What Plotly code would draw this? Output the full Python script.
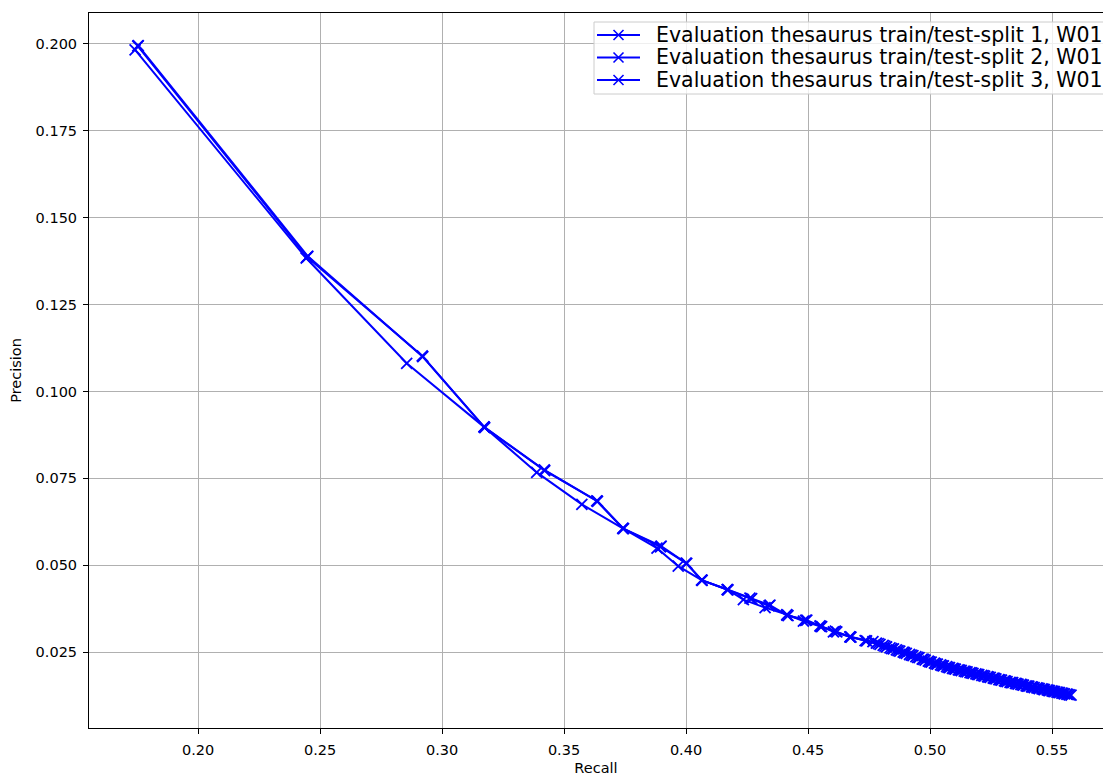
import plotly.graph_objects as go

# --- data -------------------------------------------------------------------
recall_1 = [0.1753, 0.2447, 0.2919, 0.3172, 0.3419, 0.3634, 0.3741, 0.3898, 0.4003,
            0.4064, 0.4169, 0.4269, 0.4344, 0.4413, 0.4495, 0.4549, 0.4618, 0.4672,
            0.4734, 0.4795, 0.4822, 0.4850, 0.4876, 0.4903, 0.4930, 0.4955, 0.4980,
            0.5005, 0.5030, 0.5055, 0.5080, 0.5104, 0.5128, 0.5152, 0.5176, 0.5200,
            0.5224, 0.5247, 0.5270, 0.5293, 0.5316, 0.5339, 0.5361, 0.5383, 0.5405,
            0.5427, 0.5448, 0.5469, 0.5490, 0.5511, 0.5531, 0.5551, 0.5571]
precision_1 = [0.1994, 0.1387, 0.1102, 0.0898, 0.0774, 0.0685, 0.0606, 0.0555, 0.0505,
               0.0457, 0.0430, 0.0404, 0.0385, 0.0356, 0.0342, 0.0325, 0.0308, 0.0294,
               0.0283, 0.0272, 0.0265, 0.0259, 0.0253, 0.0246, 0.0240, 0.0234, 0.0227,
               0.0221, 0.0215, 0.0210, 0.0205, 0.0201, 0.0197, 0.0193, 0.0189, 0.0185,
               0.0181, 0.0177, 0.0173, 0.0169, 0.0165, 0.0162, 0.0158, 0.0155, 0.0152,
               0.0148, 0.0145, 0.0142, 0.0139, 0.0136, 0.0133, 0.0130, 0.0127]

recall_2 = [0.1742, 0.2443, 0.2855, 0.3172, 0.3388, 0.3573, 0.3741, 0.3881, 0.3968,
            0.4064, 0.4169, 0.4235, 0.4324, 0.4413, 0.4481, 0.4556, 0.4604, 0.4672,
            0.4766, 0.4780, 0.4808, 0.4836, 0.4862, 0.4890, 0.4916, 0.4942, 0.4968,
            0.4993, 0.5018, 0.5043, 0.5068, 0.5092, 0.5116, 0.5140, 0.5164, 0.5188,
            0.5212, 0.5236, 0.5259, 0.5282, 0.5305, 0.5328, 0.5350, 0.5372, 0.5394,
            0.5416, 0.5438, 0.5459, 0.5480, 0.5500, 0.5520, 0.5540, 0.5560, 0.5578]
precision_2 = [0.1983, 0.1384, 0.1081, 0.0898, 0.0767, 0.0675, 0.0606, 0.0549, 0.0497,
               0.0457, 0.0430, 0.0401, 0.0378, 0.0358, 0.0339, 0.0323, 0.0308, 0.0294,
               0.0280, 0.0276, 0.0269, 0.0262, 0.0256, 0.0250, 0.0243, 0.0237, 0.0230,
               0.0224, 0.0218, 0.0213, 0.0208, 0.0203, 0.0199, 0.0195, 0.0191, 0.0187,
               0.0183, 0.0179, 0.0175, 0.0171, 0.0167, 0.0163, 0.0160, 0.0157, 0.0153,
               0.0150, 0.0147, 0.0144, 0.0141, 0.0138, 0.0135, 0.0132, 0.0129, 0.0126]

recall_3 = [0.1755, 0.2450, 0.2921, 0.3175, 0.3421, 0.3637, 0.3744, 0.3895, 0.4000,
            0.4066, 0.4172, 0.4262, 0.4340, 0.4418, 0.4490, 0.4552, 0.4612, 0.4676,
            0.4740, 0.4788, 0.4815, 0.4843, 0.4869, 0.4896, 0.4923, 0.4949, 0.4974,
            0.4999, 0.5024, 0.5049, 0.5074, 0.5098, 0.5122, 0.5146, 0.5170, 0.5194,
            0.5218, 0.5241, 0.5264, 0.5287, 0.5310, 0.5333, 0.5355, 0.5377, 0.5399,
            0.5421, 0.5443, 0.5464, 0.5485, 0.5505, 0.5525, 0.5545, 0.5565]
precision_3 = [0.1995, 0.1389, 0.1100, 0.0896, 0.0772, 0.0684, 0.0605, 0.0553, 0.0506,
               0.0456, 0.0429, 0.0405, 0.0383, 0.0355, 0.0341, 0.0324, 0.0310, 0.0293,
               0.0282, 0.0274, 0.0267, 0.0260, 0.0254, 0.0248, 0.0241, 0.0235, 0.0229,
               0.0222, 0.0216, 0.0211, 0.0206, 0.0202, 0.0198, 0.0194, 0.0190, 0.0186,
               0.0182, 0.0178, 0.0174, 0.0170, 0.0166, 0.0162, 0.0159, 0.0156, 0.0152,
               0.0149, 0.0146, 0.0143, 0.0140, 0.0137, 0.0134, 0.0131, 0.0128]

series_names = [
    "Evaluation thesaurus train/test-split 1, W01",
    "Evaluation thesaurus train/test-split 2, W01",
    "Evaluation thesaurus train/test-split 3, W01",
]
x_ticks = [0.20, 0.25, 0.30, 0.35, 0.40, 0.45, 0.50, 0.55]
y_ticks = [0.025, 0.050, 0.075, 0.100, 0.125, 0.150, 0.175, 0.200]

# --- figure ------------------------------------------------------------------
FONT = "DejaVu Sans"
BLUE = "#0000ff"
W, H = 1103, 776
ML, MR, MT, MB = 89, 0, 13, 48
PW, PH = W - ML - MR, H - MT - MB


def px(x):
    return (x - ML) / PW


def py(y):
    return 1 - (y - MT) / PH


fig = go.Figure()
for xs, ys, name in zip([recall_1, recall_2, recall_3],
                        [precision_1, precision_2, precision_3], series_names):
    fig.add_trace(go.Scatter(
        x=xs, y=ys, name=name, mode="lines+markers",
        line=dict(color=BLUE, width=2),
        marker=dict(symbol="x-thin", size=11, color=BLUE,
                    line=dict(color=BLUE, width=1.8)),
    ))

axis_common = dict(
    showgrid=True, gridcolor="#b0b0b0", gridwidth=1,
    showline=True, linecolor="black", linewidth=1,
    ticks="outside", ticklen=5, tickwidth=1, tickcolor="black",
    tickfont=dict(family=FONT, size=14.5, color="black"),
    zeroline=False,
)

# hand-drawn legend (matplotlib style, compact rows)
shapes = []
annotations = []
box_l, box_t, box_b = 594, 22, 94
shapes.append(dict(type="rect", xref="paper", yref="paper",
                   x0=px(box_l), x1=px(W + 10), y0=py(box_b), y1=py(box_t),
                   fillcolor="rgba(255,255,255,0.8)",
                   line=dict(color="#cccccc", width=1), layer="above"))
row_y = [35, 57.5, 80]
for name, ry in zip(series_names, row_y):
    shapes.append(dict(type="line", xref="paper", yref="paper",
                       x0=px(597), x1=px(640), y0=py(ry), y1=py(ry),
                       line=dict(color=BLUE, width=2), layer="above"))
    for d in (1, -1):
        shapes.append(dict(type="line", xref="paper", yref="paper",
                           x0=px(618.5 - 5), x1=px(618.5 + 5),
                           y0=py(ry - 5 * d), y1=py(ry + 5 * d),
                           line=dict(color=BLUE, width=1.6), layer="above"))
    annotations.append(dict(xref="paper", yref="paper", x=px(654), y=py(ry),
                            xanchor="left", yanchor="middle", showarrow=False,
                            text=name, font=dict(family=FONT, size=20.5, color="black")))

fig.update_layout(
    width=W, height=H,
    margin=dict(l=ML, r=MR, t=MT, b=MB),
    paper_bgcolor="white", plot_bgcolor="white",
    font=dict(family=FONT, color="black"),
    xaxis=dict(range=[0.1553, 0.5709], tickvals=x_ticks,
               ticktext=[f"{v:.2f}" for v in x_ticks], mirror=True,
               ticklabelstandoff=4,
               title=dict(text="Recall", font=dict(family=FONT, size=14.5), standoff=8),
               **axis_common),
    yaxis=dict(range=[0.00315, 0.2089], tickvals=y_ticks,
               ticktext=[f"{v:.3f}" for v in y_ticks],
               ticklabelstandoff=3,
               title=dict(text="Precision", font=dict(family=FONT, size=14.5), standoff=10),
               **axis_common),
    shapes=shapes,
    annotations=annotations,
    showlegend=False,
)

fig.write_html(
    "out.html",
    config={"displayModeBar": False},
    post_script="document.body.style.margin='0';document.body.style.overflow='hidden';",
)
